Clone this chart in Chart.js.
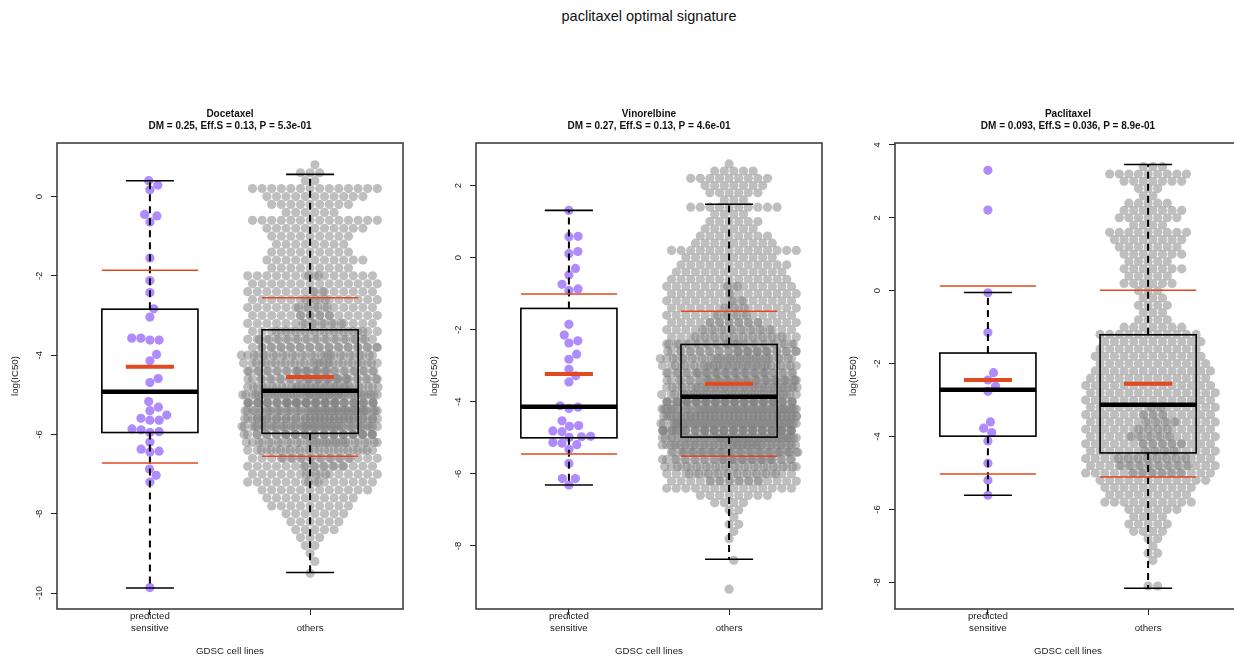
<!DOCTYPE html>
<html>
<head>
<meta charset="utf-8">
<script src="https://cdn.jsdelivr.net/npm/chart.js@4.4.1/dist/chart.umd.min.js"></script>
<style>
  html, body { margin: 0; padding: 0; background: #fff; overflow: hidden; }
  body { width: 1234px; height: 656px; position: relative; }
  #title { position: absolute; top: 8px; left: 0; width: 1298px; text-align: center;
           font: 14.5px 'Liberation Sans', Arial, Helvetica, sans-serif; line-height: 17px; color: #111; }
  canvas { position: absolute; top: 0; }
</style>
</head>
<body>
<div id="title">paclitaxel optimal signature</div>
<canvas id="c1" width="419" height="656" style="left:0px"></canvas>
<canvas id="c2" width="419" height="656" style="left:419px"></canvas>
<canvas id="c3" width="419" height="656" style="left:838px"></canvas>
<script>
// x categories
const groupLabels = [['predicted', 'sensitive'], ['', 'others']];

// ---- Docetaxel ----
const docetaxelSensitive = [0.40, 0.17, 0.29, -0.45, -0.49, -0.64, -1.55, -2.12, -2.42, -2.83, -3.04,
  -3.57, -3.62, -3.62, -3.57, -3.98, -4.14, -4.69, -4.59, -5.17, -5.31, -5.40, -5.59, -5.64, -5.64, -5.51,
  -5.88, -5.95, -5.93, -5.86, -6.19, -6.37, -6.44, -6.42, -6.87, -7.03, -7.20, -9.86];
const docetaxelOthersLevels = [0.8, 0.6, 0.4, 0.2, 0, -0.2, -0.4, -0.6, -0.8, -1, -1.2, -1.4, -1.6, -1.8,
  -2, -2.2, -2.4, -2.6, -2.8, -3, -3.2, -3.4, -3.6, -3.8, -4, -4.2, -4.4, -4.6, -4.8, -5, -5.2, -5.4, -5.6,
  -5.8, -6, -6.2, -6.4, -6.6, -6.8, -7, -7.2, -7.4, -7.6, -7.8, -8, -8.2, -8.4, -8.6, -8.8, -9, -9.2, -9.5];
const docetaxelOthersCounts = [1, 3, 2, 14, 11, 9, 6, 14, 11, 9, 8, 9, 11, 9, 16, 14, 16, 17, 18, 18,
  19, 24, 26, 27, 29, 30, 32, 33, 34, 46, 48, 48, 47, 46, 38, 32, 26, 22, 19, 17,
  16, 12, 10, 9, 7, 6, 5, 3, 2, 1, 1, 1];
// [lower whisker, Q1, median, Q3, upper whisker] per group
const docetaxelBox = [[-9.87, -5.95, -4.92, -2.84, 0.40], [-9.48, -5.97, -4.90, -3.36, 0.56]];
const docetaxelMean = [-4.29, -4.55];
const docetaxelSd = [2.43, 2.00];
const docetaxelTicks = [-10, -8, -6, -4, -2, 0];

// ---- Vinorelbine ----
const vinorelbineSensitive = [1.31, 0.58, 0.59, 0.11, 0.17, -0.30, -0.48, -0.74, -0.91, -0.87, -1.85,
  -2.15, -2.37, -2.31, -2.68, -2.82, -3.10, -3.28, -3.45, -4.11, -4.19, -4.15, -4.53, -4.68, -4.83, -4.66,
  -4.81, -4.97, -4.99, -4.96, -5.15, -5.19, -5.13, -5.32, -5.71, -6.13, -6.13, -6.31];
const vinorelbineOthersLevels = [2.6, 2.4, 2.2, 2.0, 1.8, 1.6, 1.4, 1.2, 1.0, 0.8, 0.6, 0.4, 0.2, 0,
  -0.2, -0.4, -0.6, -0.8, -1, -1.2, -1.4, -1.6, -1.8, -2, -2.2, -2.4, -2.6, -2.8, -3, -3.2, -3.4, -3.6,
  -3.8, -4, -4.2, -4.4, -4.6, -4.8, -5, -5.2, -5.4, -5.6, -5.8, -6, -6.2, -6.4, -6.6, -6.8, -7, -7.2,
  -7.4, -7.6, -7.8, -8.4, -9.2];
const vinorelbineOthersCounts = [1, 5, 9, 7, 6, 3, 10, 4, 6, 6, 8, 9, 14, 10, 12, 12, 13, 16, 15, 16,
  17, 18, 20, 22, 24, 30, 32, 34, 35, 36, 38, 39, 39, 52, 54, 55, 55, 55, 50, 45,
  40, 34, 28, 24, 20, 14, 8, 4, 2, 1, 2, 1, 1, 1, 1];
const vinorelbineBox = [[-6.31, -5.00, -4.14, -1.41, 1.31], [-8.37, -4.98, -3.86, -2.41, 1.48]];
const vinorelbineMean = [-3.23, -3.50];
const vinorelbineSd = [2.22, 2.01];
const vinorelbineTicks = [-8, -6, -4, -2, 0, 2];

// ---- Paclitaxel ----
const paclitaxelSensitive = [3.30, 2.21, -0.06, -1.15, -2.25, -2.45, -2.62, -2.76, -3.60, -3.77, -3.89,
  -4.12, -4.73, -5.20, -5.61];
const paclitaxelOthersLevels = [3.4, 3.2, 3.0, 2.8, 2.6, 2.4, 2.2, 2.0, 1.8, 1.6, 1.4, 1.2, 1.0, 0.8,
  0.6, 0.4, 0.2, 0, -0.2, -0.4, -0.6, -0.8, -1, -1.2, -1.4, -1.6, -1.8, -2, -2.2, -2.4, -2.6, -2.8, -3,
  -3.2, -3.4, -3.6, -3.8, -4, -4.2, -4.4, -4.6, -4.8, -5, -5.2, -5.4, -5.6, -5.8, -6, -6.2, -6.4, -6.6,
  -6.8, -7, -7.2, -7.4, -8.1];
const paclitaxelOthersCounts = [3, 9, 7, 3, 2, 5, 7, 7, 4, 9, 8, 7, 7, 5, 7, 5, 6, 3, 3, 4,
  3, 4, 7, 11, 11, 11, 12, 12, 13, 13, 14, 14, 14, 16, 17, 18, 18, 19, 19, 18,
  22, 22, 20, 12, 10, 9, 10, 6, 4, 5, 4, 2, 1, 2, 1, 2];
const paclitaxelBox = [[-5.61, -3.99, -2.72, -1.71, -0.05], [-8.16, -4.45, -3.13, -1.21, 3.46]];
const paclitaxelMean = [-2.45, -2.55];
const paclitaxelSd = [2.58, 2.56];
const paclitaxelTicks = [-8, -6, -4, -2, 0, 2, 4];

const FONT = "'Liberation Sans', Arial, Helvetica, sans-serif";
const PURPLE = 'rgba(155,110,250,0.8)';
const GREY = 'rgba(128,128,128,0.5)';
const RED = '#e2491f';
const DOT = 4.6;       // point radius, px
const ROW_GAP = 9.6;   // spacing of points along a row, px
const CORRAL = 68.8;   // half width of the swarm before it wraps, px

Chart.defaults.font.family = FONT;
Chart.defaults.color = '#222';

function expand(levels, counts) {
  const out = [];
  levels.forEach((v, i) => { for (let k = 0; k < counts[i]; k++) out.push(v); });
  return out;
}

function wrap(o, half) {
  const w = 2 * half;
  return ((o + half) % w + w) % w - half;
}

// beeswarm for the small group: lowest value first, nearest free offset to the centre
function swarmOffsets(py, d) {
  const order = py.map((_, i) => i).sort((a, b) => py[b] - py[a]);
  const placed = [];
  const off = new Array(py.length).fill(0);
  for (const i of order) {
    const y = py[i];
    const near = [];
    for (let k = placed.length - 1; k >= 0; k--) {
      if (Math.abs(placed[k].y - y) >= d) break;
      near.push(placed[k]);
    }
    const cands = [0];
    near.forEach(p => {
      const dx = Math.sqrt(d * d - (p.y - y) * (p.y - y));
      cands.push(p.x + dx, p.x - dx);
    });
    cands.sort((a, b) => Math.abs(a) - Math.abs(b));
    let best = 0;
    for (const c of cands) {
      if (near.every(p => (p.x - c) * (p.x - c) + (p.y - y) * (p.y - y) >= d * d - 0.01)) { best = c; break; }
    }
    placed.push({ x: best, y });
    off[i] = best;
  }
  return off;
}

// hex rows for the large group: equal values share a row, every other row shifted half a step,
// filled outwards from the centre; once a row is full the next pass is shifted and wrapped
function hexRowOffsets(vals, sx, half) {
  const rows = [...new Set(vals)].sort((a, b) => a - b);
  const rowIdx = new Map(rows.map((v, i) => [v, i]));
  const per = Math.floor(2 * half / sx);
  const used = new Map();
  return vals.map(v => {
    const k = used.get(v) || 0;
    used.set(v, k + 1);
    const r = rowIdx.get(v);
    const pass = Math.floor(k / per), j = k % per;
    const base = r % 2
      ? (j % 2 ? -1 : 1) * (Math.floor(j / 2) + 0.5)
      : Math.ceil(j / 2) * (j % 2 ? 1 : -1);
    const shift = pass * ((0.38 + 0.27 * r) % 1);
    return wrap((base + shift) * sx, half);
  });
}

function line(ctx, x1, y1, x2, y2) {
  ctx.beginPath(); ctx.moveTo(x1, y1); ctx.lineTo(x2, y2); ctx.stroke();
}

const boxPlugin = {
  id: 'boxes',
  afterDatasetsDraw(chart, args, o) {
    const { ctx, scales: { x, y } } = chart;
    const ux = x.getPixelForValue(2) - x.getPixelForValue(1);
    ctx.save();
    o.box.forEach((b, g) => {
      const cx = x.getPixelForValue(g + 1);
      const bw = 0.3 * ux, cw = 0.15 * ux;
      const [lo, q1, med, q3, hi] = b.map(v => y.getPixelForValue(v));
      ctx.strokeStyle = '#000';
      ctx.lineWidth = 2;
      ctx.setLineDash([7, 5]);
      line(ctx, cx, q3, cx, hi);
      line(ctx, cx, q1, cx, lo);
      ctx.setLineDash([]);
      ctx.lineWidth = 1.6;
      line(ctx, cx - cw, hi, cx + cw, hi);
      line(ctx, cx - cw, lo, cx + cw, lo);
      ctx.strokeRect(cx - bw, q3, 2 * bw, q1 - q3);
      ctx.lineWidth = 4.5;
      line(ctx, cx - bw, med, cx + bw, med);
      // mean +/- sd, then the mean itself
      const m = o.mean[g], s = o.sd[g];
      ctx.strokeStyle = RED;
      ctx.lineWidth = 1.5;
      [m + s, m - s].forEach(v => { const p = y.getPixelForValue(v); line(ctx, cx - bw, p, cx + bw, p); });
      ctx.lineWidth = 4;
      const pm = y.getPixelForValue(m);
      line(ctx, cx - cw, pm, cx + cw, pm);
    });
    ctx.restore();
  },
  afterDraw(chart, args, o) {
    const { ctx, chartArea: a } = chart;
    ctx.save();
    ctx.strokeStyle = '#333';
    ctx.lineWidth = 1.5;
    ctx.strokeRect(a.left, a.top, a.right - a.left, a.bottom - a.top);
    ctx.fillStyle = '#111';
    ctx.textAlign = 'center';
    ctx.textBaseline = 'middle';
    ctx.font = 'bold 10px ' + FONT;
    const cx = (a.left + a.right) / 2;
    ctx.fillText(o.title, cx, a.top - 29);
    ctx.fillText(o.subtitle, cx, a.top - 17);
    ctx.restore();
  }
};

function makePanel(id, p) {
  const chart = new Chart(document.getElementById(id), {
    type: 'scatter',
    data: {
      datasets: [
        { data: p.sensitive.map(v => ({ x: 1, y: v })), backgroundColor: PURPLE, pointRadius: DOT, borderWidth: 0 },
        { data: p.others.map(v => ({ x: 2, y: v })), backgroundColor: GREY, pointRadius: DOT, borderWidth: 0 }
      ]
    },
    options: {
      responsive: false,
      animation: false,
      events: [],
      layout: { padding: { top: 143, right: 16, left: 0, bottom: 0 } },
      plugins: {
        legend: { display: false },
        tooltip: { enabled: false },
        boxes: { box: p.box, mean: p.mean, sd: p.sd, title: p.title, subtitle: p.subtitle }
      },
      scales: {
        x: {
          type: 'linear', min: 0.42, max: 2.58,
          afterBuildTicks: s => { s.ticks = [{ value: 1 }, { value: 2 }]; },
          afterFit: s => { s.height = 47; },
          ticks: { callback: v => groupLabels[v - 1], font: { size: 9.7 }, color: '#222', padding: -4,
                   maxRotation: 0, autoSkip: false },
          grid: { drawOnChartArea: false, tickLength: 6, color: '#222' },
          border: { display: false },
          title: { display: true, text: 'GDSC cell lines', font: { size: 9.7 }, color: '#222',
                   padding: { top: 0, bottom: -1 } }
        },
        y: {
          min: p.min, max: p.max,
          afterBuildTicks: s => { s.ticks = p.ticks.map(v => ({ value: v })); },
          afterFit: s => { s.width = 57; },
          ticks: { minRotation: 90, maxRotation: 90, crossAlign: 'center', padding: p.tickPad,
                   font: { size: 9.5 }, color: '#222' },
          grid: { drawOnChartArea: false, tickLength: 6, color: '#222' },
          border: { display: false },
          title: { display: true, text: 'log(IC50)', font: { size: 9.7 }, color: '#222', padding: { top: 10 } }
        }
      }
    },
    plugins: [boxPlugin]
  });

  // spread both groups sideways now that the pixel scales are known
  const xs = chart.scales.x, ys = chart.scales.y;
  const pxPerX = xs.getPixelForValue(2) - xs.getPixelForValue(1);
  const [sens, others] = chart.data.datasets;
  const so = swarmOffsets(sens.data.map(pt => ys.getPixelForValue(pt.y)), 2 * DOT);
  sens.data.forEach((pt, i) => { pt.x = 1 + so[i] / pxPerX; });
  const oo = hexRowOffsets(others.data.map(pt => pt.y), ROW_GAP, CORRAL);
  others.data.forEach((pt, i) => { pt.x = 2 + oo[i] / pxPerX; });
  chart.update('none');
}

makePanel('c1', {
  title: 'Docetaxel', subtitle: 'DM = 0.25, Eff.S = 0.13, P = 5.3e-01',
  sensitive: docetaxelSensitive, others: expand(docetaxelOthersLevels, docetaxelOthersCounts),
  box: docetaxelBox, mean: docetaxelMean, sd: docetaxelSd, ticks: docetaxelTicks,
  min: -10.40, max: 1.35, tickPad: 4.8
});
makePanel('c2', {
  title: 'Vinorelbine', subtitle: 'DM = 0.27, Eff.S = 0.13, P = 4.6e-01',
  sensitive: vinorelbineSensitive, others: expand(vinorelbineOthersLevels, vinorelbineOthersCounts),
  box: vinorelbineBox, mean: vinorelbineMean, sd: vinorelbineSd, ticks: vinorelbineTicks,
  min: -9.75, max: 3.18, tickPad: 7.5
});
makePanel('c3', {
  title: 'Paclitaxel', subtitle: 'DM = 0.093, Eff.S = 0.036, P = 8.9e-01',
  sensitive: paclitaxelSensitive, others: expand(paclitaxelOthersLevels, paclitaxelOthersCounts),
  box: paclitaxelBox, mean: paclitaxelMean, sd: paclitaxelSd, ticks: paclitaxelTicks,
  min: -8.73, max: 4.05, tickPad: 7.5
});
</script>
</body>
</html>
